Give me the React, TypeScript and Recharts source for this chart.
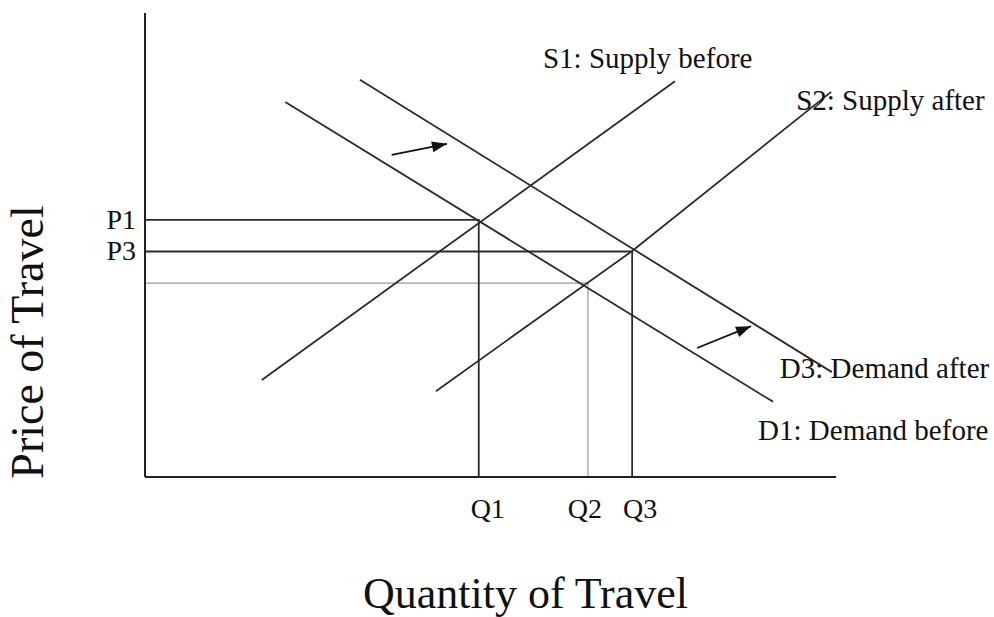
import React from "react";
import { ComposedChart, Line, XAxis, YAxis } from "recharts";

// quantity (0-100) vs price (0-100)
const supplyBefore = [
  { x: 16.9, y: 20.9 },
  { x: 76.7, y: 85.3 },
];
const supplyAfter = [
  { x: 42.1, y: 18.5 },
  { x: 70.5, y: 48.7 },
  { x: 99.3, y: 83.0 },
];
const demandBefore = [
  { x: 20.3, y: 80.8 },
  { x: 90.9, y: 16.2 },
];
const demandAfter = [
  { x: 31.1, y: 85.6 },
  { x: 99.4, y: 22.6 },
];

const priceTicks = [55.4, 48.6];
const priceLabels = ["P1", "P3"];
const qtyTicks = [48.3, 64.1, 70.5];
const qtyLabels = ["Q1", "Q2", "Q3"];
const p2 = 41.8;

const guideP1 = [
  { x: 0, y: priceTicks[0] },
  { x: qtyTicks[0], y: priceTicks[0] },
  { x: qtyTicks[0], y: 0 },
];
const guideP3 = [
  { x: 0, y: priceTicks[1] },
  { x: qtyTicks[2], y: priceTicks[1] },
  { x: qtyTicks[2], y: 0 },
];
const guideP2 = [
  { x: 0, y: p2 },
  { x: qtyTicks[1], y: p2 },
  { x: qtyTicks[1], y: 0 },
];

const arrowSupply = [
  { x: 35.7, y: 69.4 },
  { x: 43.7, y: 71.8 },
];
const arrowDemand = [
  { x: 79.9, y: 27.8 },
  { x: 87.7, y: 32.5 },
];

const serif = "'Liberation Serif', 'DejaVu Serif', serif";
const ink = "#2b2b2b";

const PriceTick = (props: any) => {
  const { x, y, index } = props;
  return (
    <text x={x - 1} y={y + 9} textAnchor="end" fontSize={28} fontFamily={serif} fill="#111">
      {priceLabels[index]}
    </text>
  );
};

const qtyOffsets = [9, -3, 8];
const QtyTick = (props: any) => {
  const { x, y, index } = props;
  return (
    <text x={x + qtyOffsets[index]} y={y + 33} textAnchor="middle" fontSize={28} fontFamily={serif} fill="#111">
      {qtyLabels[index]}
    </text>
  );
};

const endLabel = (text: string, last: number, dx: number, dy: number) => (props: any) => {
  const { x, y, index } = props;
  if (index !== last) return <g key={`l-${index}`} />;
  return (
    <text key={`l-${index}`} x={x + dx} y={y + dy} fontSize={29} fontFamily={serif} fill="#111">
      {text}
    </text>
  );
};

const arrowHead = (props: any) => {
  const { cx, cy, index, points } = props;
  if (index !== 1 || !points) return <g key={`d-${index}`} />;
  const p0 = points[0];
  const a = Math.atan2(cy - p0.y, cx - p0.x);
  const len = 15;
  const half = 5.5;
  const bx = cx - len * Math.cos(a);
  const by = cy - len * Math.sin(a);
  const nx = -Math.sin(a) * half;
  const ny = Math.cos(a) * half;
  return (
    <polygon
      key={`d-${index}`}
      points={`${cx},${cy} ${bx + nx},${by + ny} ${bx - nx},${by - ny}`}
      fill="#111"
    />
  );
};

export default function App() {
  return (
    <div style={{ position: "absolute", left: 0, top: 0, background: "#fff" }}>
      <ComposedChart width={994} height={617} margin={{ top: 13, right: 158, bottom: 110, left: 85 }}>
        <XAxis
          type="number"
          dataKey="x"
          domain={[0, 100]}
          ticks={qtyTicks}
          tick={<QtyTick />}
          tickLine={false}
          axisLine={{ stroke: "#222", strokeWidth: 2 }}
          height={30}
          allowDataOverflow
          label={{
            content: (p: any) => {
              const vb = p.viewBox || {};
              return (
                <text x={vb.x + vb.width / 2 + 35} y={vb.y + 131} textAnchor="middle" fontSize={44} fontFamily={serif} fill="#111">
                  Quantity of Travel
                </text>
              );
            },
          }}
        />
        <YAxis
          type="number"
          domain={[0, 100]}
          ticks={priceTicks}
          tick={<PriceTick />}
          tickLine={false}
          axisLine={{ stroke: "#222", strokeWidth: 2 }}
          width={60}
          allowDataOverflow
          label={{
            content: (p: any) => {
              const vb = p.viewBox || {};
              const cx = vb.x + vb.width - 102;
              const cy = vb.y + vb.height / 2 + 97;
              return (
                <text x={cx} y={cy} transform={`rotate(-90 ${cx} ${cy})`} textAnchor="middle" fontSize={46} fontFamily={serif} fill="#111">
                  Price of Travel
                </text>
              );
            },
          }}
        />

        <Line data={guideP2} dataKey="y" type="linear" stroke="#9a9a9a" strokeWidth={1.2} dot={false} isAnimationActive={false} legendType="none" />
        <Line data={guideP1} dataKey="y" type="linear" stroke={ink} strokeWidth={1.8} dot={false} isAnimationActive={false} legendType="none" />
        <Line data={guideP3} dataKey="y" type="linear" stroke={ink} strokeWidth={1.8} dot={false} isAnimationActive={false} legendType="none" />

        <Line data={supplyBefore} dataKey="y" type="linear" stroke={ink} strokeWidth={1.8} dot={false} isAnimationActive={false} label={endLabel("S1: Supply before", 1, -132, -13)} />
        <Line data={supplyAfter} dataKey="y" type="linear" stroke={ink} strokeWidth={1.8} dot={false} isAnimationActive={false} label={endLabel("S2: Supply after", 2, -35, 18)} />
        <Line data={demandBefore} dataKey="y" type="linear" stroke={ink} strokeWidth={1.8} dot={false} isAnimationActive={false} label={endLabel("D1: Demand before", 1, -15, 38)} />
        <Line data={demandAfter} dataKey="y" type="linear" stroke={ink} strokeWidth={1.8} dot={false} isAnimationActive={false} label={endLabel("D3: Demand after", 1, -52, 6)} />

        <Line data={arrowSupply} dataKey="y" type="linear" stroke="#111" strokeWidth={1.8} dot={arrowHead} activeDot={false} isAnimationActive={false} />
        <Line data={arrowDemand} dataKey="y" type="linear" stroke="#111" strokeWidth={1.8} dot={arrowHead} activeDot={false} isAnimationActive={false} />
      </ComposedChart>
    </div>
  );
}
